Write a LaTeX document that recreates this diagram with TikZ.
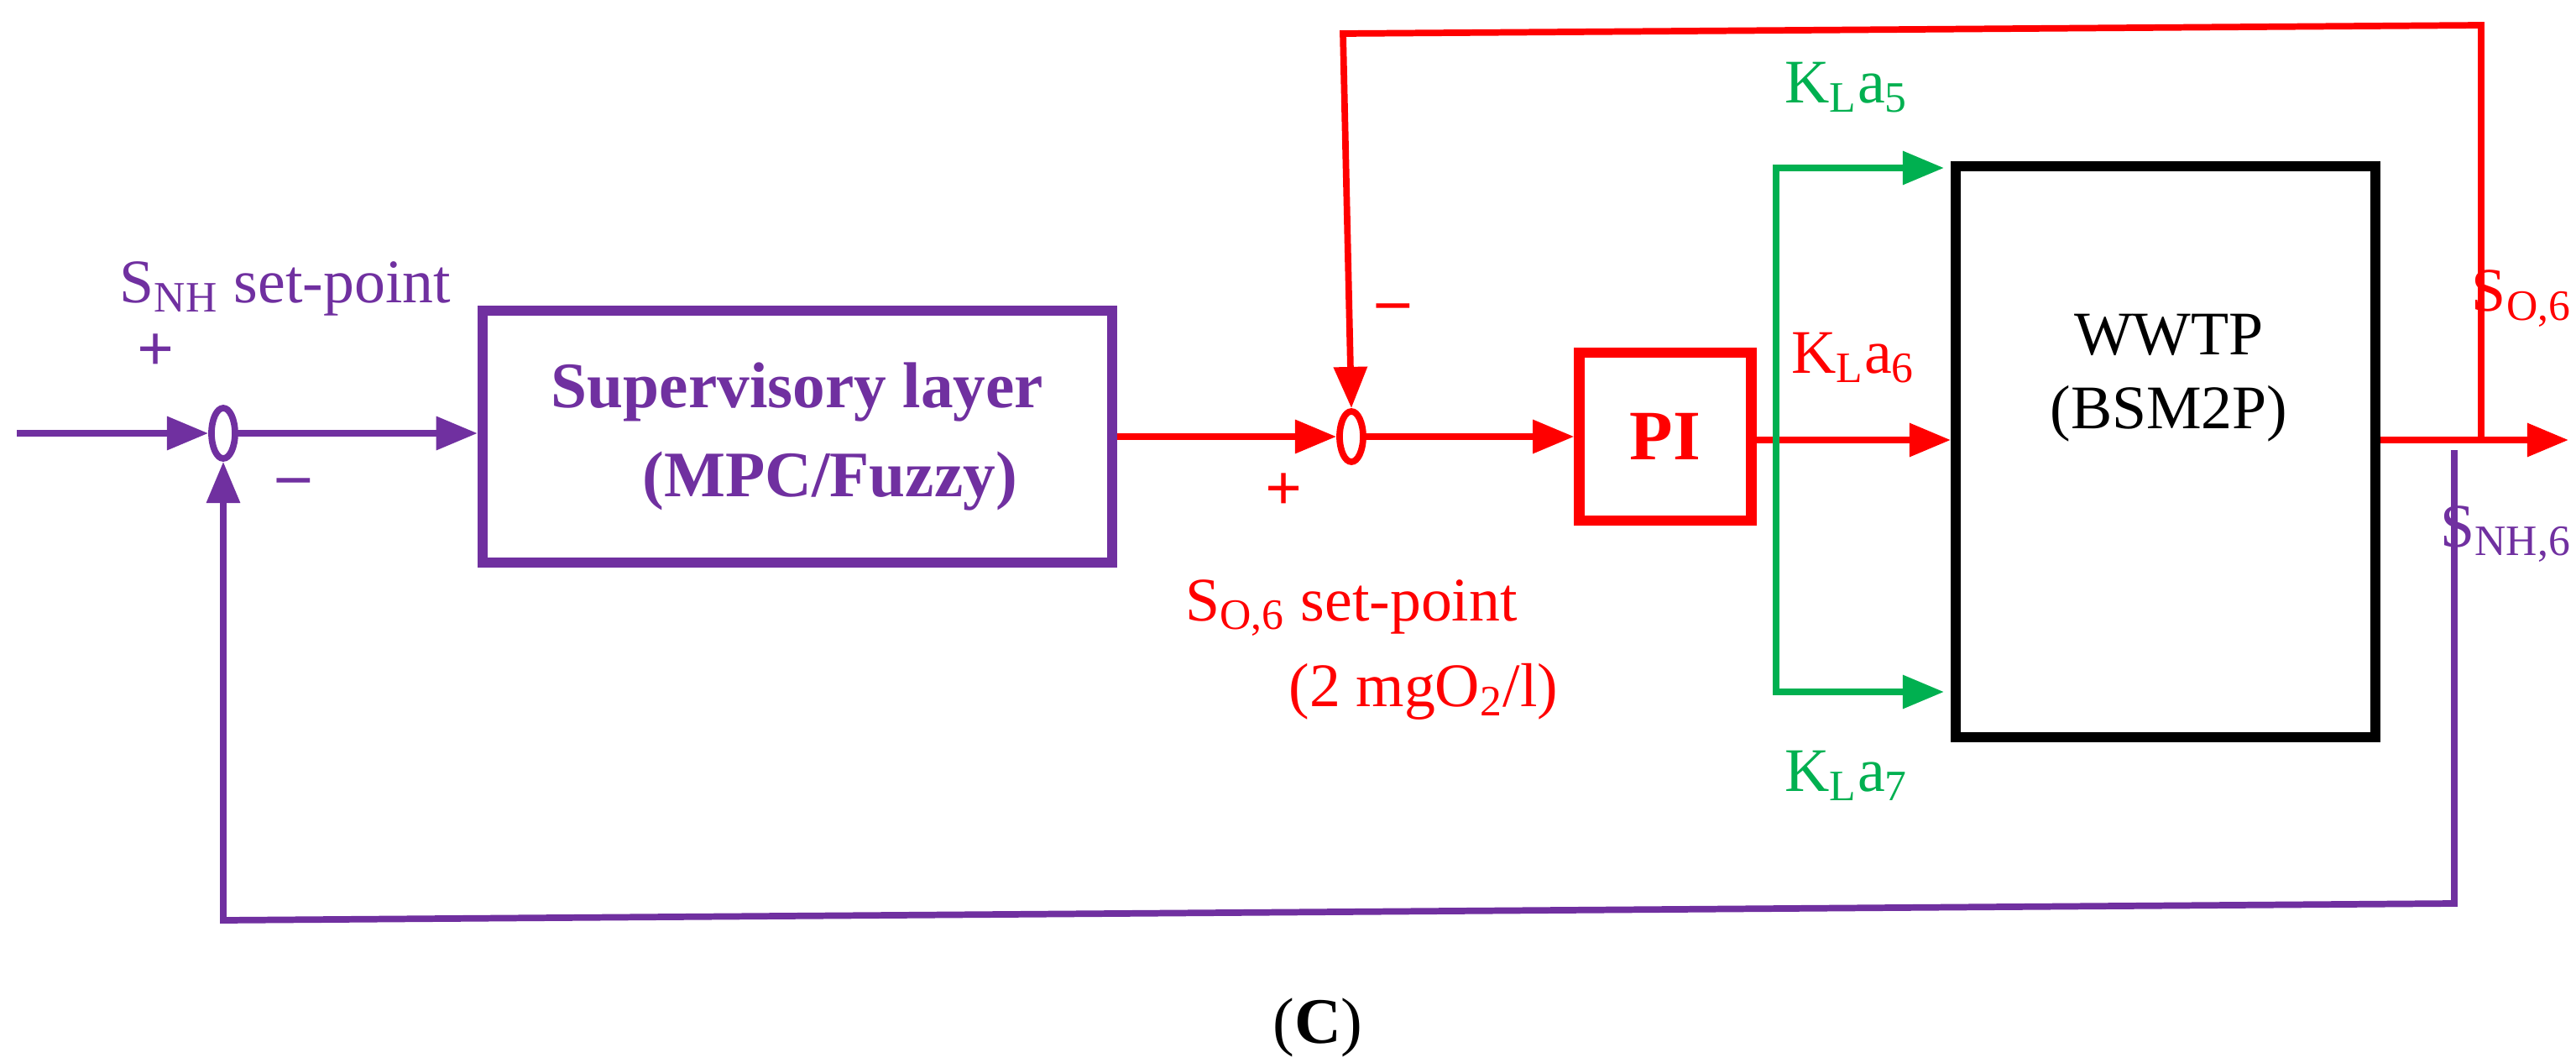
\documentclass[tikz,border=0pt]{standalone}
\usepackage{fontspec}
\setmainfont{Liberation Serif}
\usepackage{xcolor}
\usetikzlibrary{shapes,arrows.meta,positioning,calc}
\definecolor{vio}{RGB}{112,48,160}
\definecolor{rd}{RGB}{255,0,0}
\definecolor{gr}{RGB}{0,176,80}
\tikzset{
  sig/.style={line width=2.2pt,-{Triangle[length=14pt,width=11pt]}},
  sum/.style={ellipse,draw,line width=2.2pt,minimum width=0.28cm,minimum height=0.6cm,inner sep=0pt},
  lbl/.style={font=\fontsize{21}{25}\selectfont},
  sgn/.style={font=\bfseries\fontsize{22}{22}\selectfont}
}
\begin{document}
\begin{tikzpicture}[x=0.2mm,y=-0.2mm]
\useasboundingbox (0,0) rectangle (1534.5,633);
\node[sum,vio] (sum1) at (133,258) {};
\node[draw=vio,line width=3.5pt,minimum width=7.5cm,minimum height=3cm,text=vio,font=\bfseries\fontsize{22}{30}\selectfont,align=center] (sup) at (475,260) {Supervisory layer\\\quad(MPC/Fuzzy)};
\node[sum,rd] (sum2) at (805,260) {};
\node[draw=rd,line width=3.5pt,minimum width=2.05cm,minimum height=2cm,text=rd,font=\bfseries\fontsize{24}{26}\selectfont] (pi) at (992,260) {PI};
\node[draw,line width=3.5pt,minimum width=5cm,minimum height=6.8cm,anchor=north west] (wwtp) at (1162,96) {};
\node[lbl,align=center] at (1292,225) {WWTP\\(BSM2P)};

\coordinate (in) at (10,258);
\coordinate (out) at (1530,262);
\coordinate (tap1) at (1478,262);
\coordinate (tap2) at (1462,268);
\coordinate (kl) at (1058,262);

% setpoint loop
\draw[sig,vio] (in) -- (sum1.west);
\draw[sig,vio] (sum1.east) -- (sum1.east -| sup.west);
\draw[sig,rd] (sup.east |- sum2) -- (sum2.west);
\draw[sig,rd] (sum2.east) -- (pi.west);
\draw[sig,rd] (pi.east |- kl) -- (kl -| wwtp.west);
\draw[sig,rd] (wwtp.east |- out) -- (out);
% aeration
\draw[sig,gr] (kl |- 0,412) -- (1058,100) -- (1158,100);
\draw[sig,gr] (kl) -- (1058,412) -- (1158,412);
% feedback
\draw[sig,rd] (tap1) -- (1478,15) -- (800,20) -- (sum2.north);
\draw[sig,vio] (tap2) -- (1462,538) -- (133,548) -- (sum1.south);

\node[lbl,text=vio] at (170,172) {S\textsubscript{NH} set-point};
\node[sgn,text=vio] at (93,210) {+};
\node[sgn,text=vio] at (175,290) {--};
\node[sgn,text=rd] at (830,186) {--};
\node[sgn,text=rd] at (765,293) {+};
\node[lbl,text=rd] at (805,362) {S\textsubscript{O,6} set-point};
\node[lbl,text=rd] at (848,412) {(2 mgO\textsubscript{2}/l)};
\node[lbl,text=gr] at (1100,52) {K\textsubscript{L}a\textsubscript{5}};
\node[lbl,text=rd] at (1104,213) {K\textsubscript{L}a\textsubscript{6}};
\node[lbl,text=gr] at (1100,462) {K\textsubscript{L}a\textsubscript{7}};
\node[lbl,text=rd,anchor=east,inner sep=1pt] at (1534,178) {S\textsubscript{O,6}};
\node[lbl,text=vio,anchor=east,inner sep=1pt] at (1534,318) {S\textsubscript{NH,6}};
\node[font=\fontsize{22}{26}\selectfont] at (785,612) {(\textbf{C})};
\end{tikzpicture}
\end{document}
